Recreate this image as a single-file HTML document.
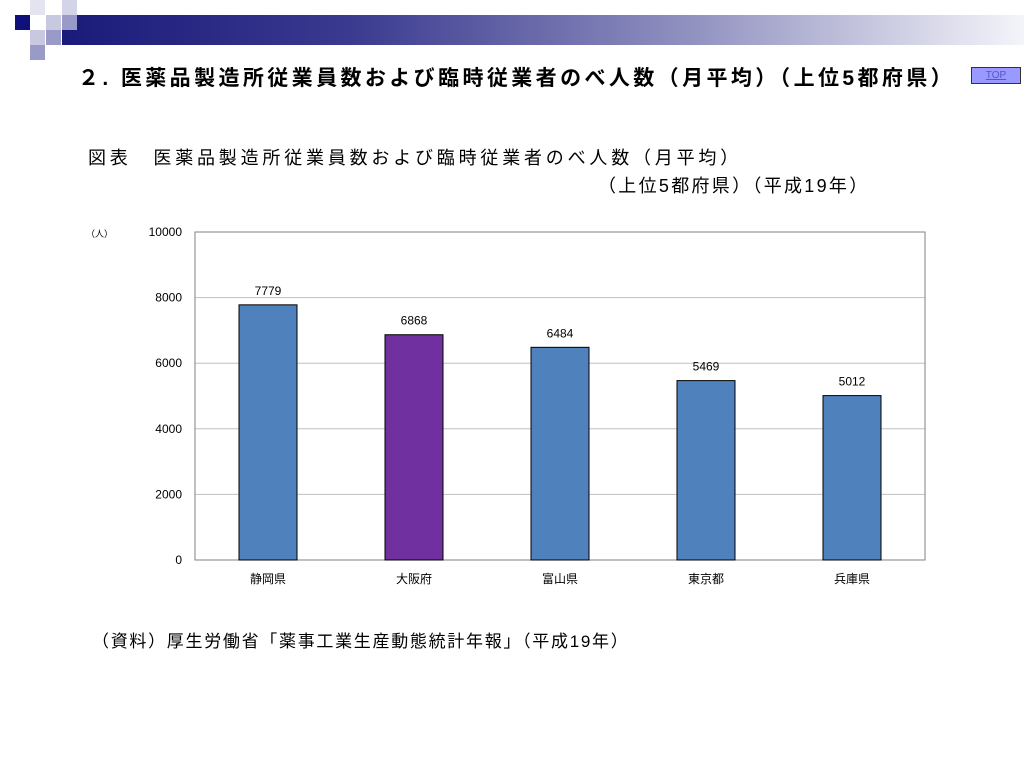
<!DOCTYPE html>
<html><head><meta charset="utf-8"><style>
body{margin:0;width:1024px;height:768px;background:#fff;position:relative;overflow:hidden;font-family:"Liberation Sans","Noto Sans CJK JP",sans-serif;}
.a{position:absolute;}
</style></head><body>
<div class="a" style="left:62px;top:15px;width:962px;height:30px;background:linear-gradient(90deg,#1a1a7a 0%,#3a3a90 30%,#9090c0 65%,#f4f4fa 100%)"></div>
<div class="a" style="left:15px;top:15px;width:15px;height:15px;background:#10107a"></div>
<div class="a" style="left:30px;top:0;width:15px;height:15px;background:#e4e4f0"></div>
<div class="a" style="left:62px;top:0;width:15px;height:15px;background:#d4d4e8"></div>
<div class="a" style="left:46px;top:15px;width:15px;height:15px;background:#c8c8e0"></div>
<div class="a" style="left:62px;top:15px;width:15px;height:15px;background:#9a9ac8"></div>
<div class="a" style="left:30px;top:30px;width:15px;height:15px;background:#c8c8e0"></div>
<div class="a" style="left:46px;top:30px;width:15px;height:15px;background:#9a9ac8"></div>
<div class="a" style="left:30px;top:45px;width:15px;height:15px;background:#9a9ac8"></div>
<div class="a" style="left:78px;top:62px;font-size:21px;font-weight:bold;white-space:nowrap;letter-spacing:3.4px">２. 医薬品製造所従業員数および臨時従業者のべ人数（月平均）（上位5都府県）</div>
<a class="a" style="left:971px;top:67px;width:50px;height:17px;background:#9999ff;border:1px solid #333;font-size:10px;color:#5555cc;text-align:center;line-height:15px;text-decoration:underline;box-sizing:border-box">TOP</a>
<div class="a" style="left:88px;top:144px;font-size:18px;white-space:nowrap;letter-spacing:3.8px">図表　医薬品製造所従業員数および臨時従業者のべ人数（月平均）</div>
<div class="a" style="left:598px;top:172px;font-size:18px;white-space:nowrap;letter-spacing:2.3px">（上位5都府県）（平成19年）</div>
<div class="a" style="left:92px;top:627px;font-size:17px;white-space:nowrap;letter-spacing:1.7px">（資料）厚生労働省「薬事工業生産動態統計年報」（平成19年）</div>
<svg class="a" style="left:0;top:0" width="1024" height="768">
<text x="86" y="237" font-size="9">（人）</text>
<g id="g"></g>
</svg>
<script>
const categories=["静岡県","大阪府","富山県","東京都","兵庫県"];
const values=[7779,6868,6484,5469,5012];
const ticks=[0,2000,4000,6000,8000,10000];
const colors=["#4f81bd","#7030a0","#4f81bd","#4f81bd","#4f81bd"];
const X0=195,X1=925,Y0=560,Y1=232,MAX=10000;
const y=v=>Y0-(v/MAX)*(Y0-Y1);
const bw=(X1-X0)/categories.length;
const x=i=>X0+bw*(i+0.5);
const g=document.getElementById('g');
const NS="http://www.w3.org/2000/svg";
function mk(t,a){const e=document.createElementNS(NS,t);for(const k in a)e.setAttribute(k,a[k]);g.appendChild(e);return e;}
ticks.forEach(t=>{
  const l=mk('line',{x1:X0,x2:X1,y1:y(t),y2:y(t),stroke:t===0?'#000':'#c0c0c0','stroke-width':1});
  
  
  const tx=mk('text',{x:X0-13,y:y(t)+4,'font-size':12,'text-anchor':'end'});
  tx.textContent=t;
  
  
});
const fr=mk('rect',{x:X0,y:Y1,width:X1-X0,height:Y0-Y1,fill:'none',stroke:'#808080'});


values.forEach((v,i)=>{
  const r=mk('rect',{x:x(i)-29,y:y(v),width:58,height:Y0-y(v),fill:colors[i],stroke:'#000','stroke-width':1});
  
  
  const t=mk('text',{x:x(i),y:y(v)-10,'font-size':12,'text-anchor':'middle'});
  t.textContent=v;
  
  
  const c=mk('text',{x:x(i),y:Y0+23,'font-size':12,'text-anchor':'middle'});
  c.textContent=categories[i];
  
  
});
</script>
</body></html>
